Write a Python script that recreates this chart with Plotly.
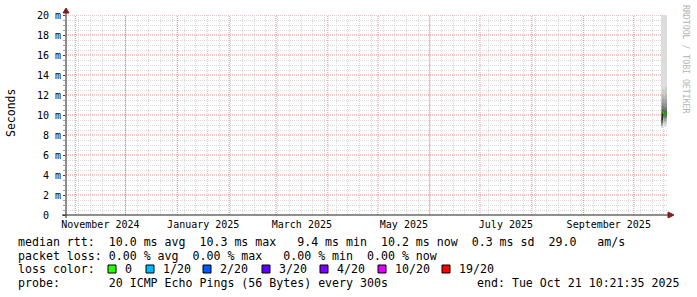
import plotly.graph_objects as go
import pandas as pd

# ---------------- data ----------------
end_time = "2025-10-21 10:21:35"
span_days = 360

slot_starts = ["2025-10-17 12:00", "2025-10-18 02:24", "2025-10-18 16:48",
               "2025-10-19 07:12", "2025-10-19 21:36"]
slot_hours = 14.4
median_ms = [9.4, 10.3, 10.2, 10.0, 10.2]
pings_ms = [
    [8.7, 8.8, 8.9, 9.0, 9.1, 9.2, 9.25, 9.3, 9.35, 9.38, 9.42, 9.5, 9.6, 9.8, 10.1, 10.5, 10.9, 11.4, 12.2, 28.0],
    [9.0, 9.3, 9.5, 9.7, 9.8, 9.95, 10.05, 10.15, 10.22, 10.28, 10.32, 10.4, 10.5, 10.65, 10.9, 11.2, 11.6, 12.0, 12.6, 30.0],
    [8.9, 9.2, 9.4, 9.6, 9.75, 9.85, 9.95, 10.05, 10.12, 10.18, 10.22, 10.3, 10.4, 10.55, 10.8, 11.1, 11.5, 11.9, 12.5, 29.0],
    [8.8, 9.1, 9.3, 9.45, 9.6, 9.7, 9.8, 9.88, 9.94, 9.98, 10.02, 10.1, 10.2, 10.35, 10.6, 10.9, 11.3, 11.8, 12.3, 27.0],
    [8.9, 9.2, 9.4, 9.6, 9.75, 9.85, 9.95, 10.05, 10.12, 10.18, 10.22, 10.3, 10.42, 10.6, 10.85, 11.2, 11.6, 12.1, 12.8, 31.0],
]

loss_labels = ["0", "1/20", "2/20", "3/20", "4/20", "10/20", "19/20"]
loss_colors = ["#26ff00", "#00b8ff", "#0059ff", "#5e00ff", "#7e00ff", "#dd00ff", "#ff0000"]

month_label_starts = ["2024-11-01", "2025-01-01", "2025-03-01", "2025-05-01", "2025-07-01", "2025-09-01"]
month_labels = ["November 2024", "January 2025", "March 2025", "May 2025", "July 2025", "September 2025"]

y_ticks = [0, 2, 4, 6, 8, 10, 12, 14, 16, 18, 20]
y_tick_text = ["0  ", "2 m", "4 m", "6 m", "8 m", "10 m", "12 m", "14 m", "16 m", "18 m", "20 m"]

legend_line1 = "median rtt:  10.0 ms avg  10.3 ms max   9.4 ms min  10.2 ms now  0.3 ms sd  29.0   am/s"
legend_line2 = "packet loss: 0.00 % avg  0.00 % max   0.00 % min  0.00 % now"
legend_line3_head = "loss color:"
legend_line4 = "probe:       20 ICMP Echo Pings (56 Bytes) every 300s"
legend_end = "end: Tue Oct 21 10:21:35 2025"
y_title = "Seconds"
watermark = "RRDTOOL / TOBI OETIKER"

# ---------------- layout helpers ----------------
FIG_W, FIG_H = 697, 297
L, T, W, H = 66, 15, 602, 200


def px(X):
    return (X - L) / W


def py(Y):
    return (T + H - Y) / H


def nb(s):
    return s.replace(" ", "\u00a0")


MONO = "DejaVu Sans Mono"

end = pd.Timestamp(end_time)
start = end - pd.Timedelta(days=span_days)
slot_len = pd.Timedelta(hours=slot_hours)
starts = pd.to_datetime(slot_starts)
centers = starts + slot_len / 2
ends = starts + slot_len

fig = go.Figure()

# smoke (SmokePing style: nested bands, darker towards the median)
n = len(pings_ms[0])
half = n // 2
for ibot in range(1, half + 1):
    lo = [p[ibot - 1] for p in pings_ms]
    hi = [p[n - ibot] for p in pings_ms]
    g = int(190 / half * (half - ibot)) + 50
    fig.add_trace(go.Bar(
        x=centers, y=[h - l for h, l in zip(hi, lo)], base=lo,
        width=slot_len.total_seconds() * 1000,
        marker=dict(color=f"rgb({g},{g},{g})", line=dict(width=0)),
        showlegend=False, hoverinfo="skip"))

# median line: dark step line + loss-coloured segments
fig.add_trace(go.Scatter(
    x=list(starts) + [ends[-1]], y=median_ms + [median_ms[-1]],
    mode="lines", line=dict(color="#202020", width=1, shape="hv"),
    showlegend=False, hoverinfo="skip"))
seg_x, seg_y = [], []
for s, e, m in zip(starts, ends, median_ms):
    seg_x += [s, e, None]
    seg_y += [m, m, None]
fig.add_trace(go.Scatter(
    x=seg_x, y=seg_y, mode="lines", line=dict(color=loss_colors[0], width=2.5),
    showlegend=False, hoverinfo="skip"))

# dummy trace so the label axis exists
fig.add_trace(go.Scatter(x=[start], y=[None], xaxis="x2", showlegend=False,
                         hoverinfo="skip", mode="markers"))

# grid positions
month_grid = list(pd.date_range("2024-11-01", "2025-10-01", freq="MS"))
week_grid = [d for d in pd.date_range("2024-10-27", end, freq="7D")]
lab_starts = pd.to_datetime(month_label_starts)
lab_pos = [s + ((s + pd.offsets.MonthBegin(1)) - s) / 2 for s in lab_starts]
y_minor = [v / 2 for v in range(0, 41) if v % 4 != 0]

major_grid = "rgba(226,96,96,0.75)"
minor_grid = "#d8d8d8"
dash = "1px,1px"
rng = [start, end]

fig.update_layout(
    width=FIG_W, height=FIG_H,
    margin=dict(l=L, r=FIG_W - L - W, t=T, b=FIG_H - T - H, autoexpand=False),
    paper_bgcolor="white", plot_bgcolor="white",
    barmode="overlay", bargap=0,
    showlegend=False,
    # weekly minor grid
    xaxis=dict(
        type="date", range=rng,
        tickmode="array", tickvals=week_grid, showticklabels=False,
        showgrid=True, gridcolor=minor_grid, griddash=dash, gridwidth=1,
        ticks="", showline=False, zeroline=False,
    ),
    # month labels
    xaxis2=dict(
        type="date", range=rng, overlaying="x", anchor="y", side="bottom",
        tickmode="array", tickvals=lab_pos, ticktext=month_labels,
        showgrid=False, ticks="", showline=False, zeroline=False,
        ticklabelstandoff=2,
        tickfont=dict(family=MONO, size=10, color="#000"),
    ),
    yaxis=dict(
        range=[0, 20], tickmode="array", tickvals=y_ticks,
        ticktext=[nb(t) for t in y_tick_text],
        tickfont=dict(family=MONO, size=10, color="#000"),
        showgrid=False,
        ticks="outside", ticklen=2, tickcolor="#404040",
        showline=False, zeroline=False,
        minor=dict(tickmode="array", tickvals=y_minor, showgrid=True,
                   gridcolor=minor_grid, griddash=dash,
                   ticks="outside", ticklen=2, tickcolor="#a0a0a0"),
    ),
)

shapes = []
# major (monthly / 2 ms) grid lines
for d in month_grid:
    shapes.append(dict(type="line", xref="x", yref="paper", x0=d, x1=d, y0=0, y1=1,
                       layer="below", line=dict(color=major_grid, width=1, dash=dash)))
for v in y_ticks[1:]:
    shapes.append(dict(type="line", xref="paper", yref="y", x0=0, x1=1, y0=v, y1=v,
                       layer="below", line=dict(color=major_grid, width=1, dash=dash)))

AX = "#1f1f1f"
ARROW = "#801f1f"
shapes += [
    dict(type="line", xref="paper", yref="paper", x0=px(62), x1=px(668), y0=py(215), y1=py(215),
         line=dict(color=AX, width=1)),
    dict(type="line", xref="paper", yref="paper", x0=px(66), x1=px(66), y0=py(218), y1=py(13),
         line=dict(color=AX, width=1)),
    dict(type="path", xref="paper", yref="paper",
         path=f"M {px(668)},{py(212)} L {px(668)},{py(218)} L {px(674)},{py(215)} Z",
         fillcolor=ARROW, line=dict(color=ARROW, width=1)),
    dict(type="path", xref="paper", yref="paper",
         path=f"M {px(63)},{py(13)} L {px(69)},{py(13)} L {px(66)},{py(8)} Z",
         fillcolor=ARROW, line=dict(color=ARROW, width=1)),
]

sq_x = [108, 146, 203, 262, 320, 378, 442]
for X, c in zip(sq_x, loss_colors):
    shapes.append(dict(type="rect", xref="paper", yref="paper",
                       x0=px(X), x1=px(X + 8), y0=py(273), y1=py(265),
                       fillcolor=c, line=dict(color="#000", width=1)))
fig.update_layout(shapes=shapes)

LEG = dict(family=MONO, size=11.6, color="#000")
ann = []


def add_text(text, X, Y, anchor="left", font=LEG):
    ann.append(dict(text=nb(text), x=px(X), y=py(Y), xref="paper", yref="paper",
                    xanchor=anchor, yanchor="middle", showarrow=False, font=font))


add_text(legend_line1, 16, 241.5)
add_text(legend_line2, 16, 255.5)
add_text(legend_line3_head, 16, 269.3)
for X, lab in zip(sq_x, loss_labels):
    add_text(lab, X + 15, 269.3)
add_text(legend_line4, 16, 283)
add_text(legend_end, 681, 283, anchor="right")
ann.append(dict(text=y_title, x=px(11), y=py(113), xref="paper", yref="paper",
                xanchor="center", yanchor="middle", showarrow=False, textangle=-90,
                font=dict(family=MONO, size=11.5, color="#000")))
ann.append(dict(text=nb(watermark), x=1, xshift=18, y=py(59), xref="paper", yref="paper",
                xanchor="center", yanchor="middle", showarrow=False, textangle=90,
                font=dict(family=MONO, size=8.2, color="#b4b4b4")))
fig.update_layout(annotations=ann)

fig.write_html("out.html")
